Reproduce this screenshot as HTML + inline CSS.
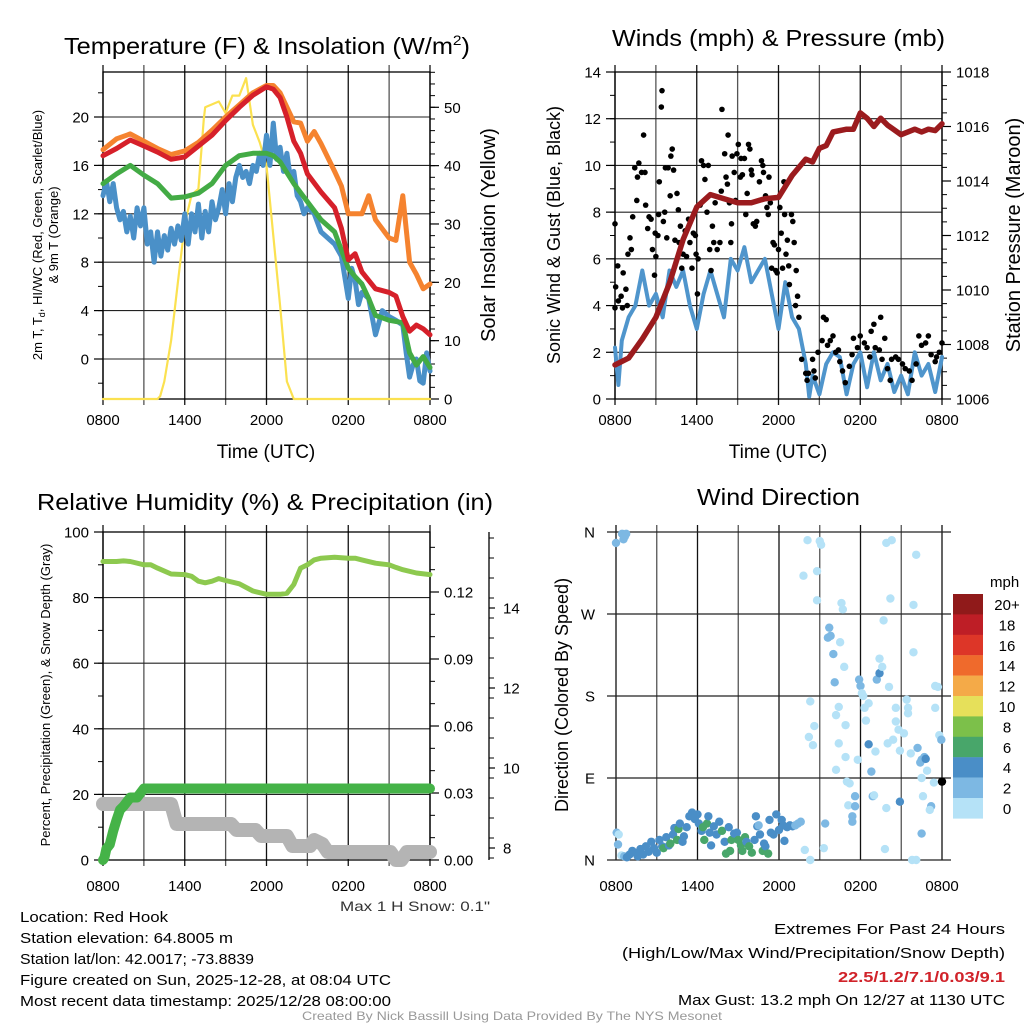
<!DOCTYPE html>
<html><head><meta charset="utf-8"><style>
html,body{margin:0;padding:0;background:#fff;}
svg{display:block;font-family:"Liberation Sans",sans-serif;}
</style></head><body>
<svg id="root" width="1024" height="1024" viewBox="0 0 1024 1024" xmlns="http://www.w3.org/2000/svg">
<rect width="1024" height="1024" fill="#fff"/>
<g id="texts" fill="#000">
<text x="64" y="54" font-size="23" textLength="406" lengthAdjust="spacingAndGlyphs">Temperature (F) &amp; Insolation (W/m<tspan font-size="14" dy="-9">2</tspan><tspan dy="9">)</tspan></text>
<text x="612" y="46" font-size="23" textLength="333" lengthAdjust="spacingAndGlyphs">Winds (mph) &amp; Pressure (mb)</text>
<text x="37" y="510" font-size="23" textLength="456" lengthAdjust="spacingAndGlyphs">Relative Humidity (%) &amp; Precipitation (in)</text>
<text x="697" y="505" font-size="23" textLength="163" lengthAdjust="spacingAndGlyphs">Wind Direction</text>
<text x="266" y="458" font-size="19" text-anchor="middle">Time (UTC)</text>
<text x="778" y="458" font-size="19" text-anchor="middle">Time (UTC)</text>
<text transform="translate(42,235) rotate(-90)" font-size="13" text-anchor="middle">2m T, T<tspan font-size="9" dy="3">d</tspan><tspan dy="-3">, HI/WC (Red, Green, Scarlet/Blue)</tspan></text>
<text transform="translate(58,235) rotate(-90)" font-size="13" text-anchor="middle">&amp; 9m T (Orange)</text>
<text transform="translate(495,235) rotate(-90)" font-size="20" text-anchor="middle">Solar Insolation (Yellow)</text>
<text transform="translate(560,235) rotate(-90)" font-size="18" text-anchor="middle">Sonic Wind &amp; Gust (Blue, Black)</text>
<text transform="translate(1020,235) rotate(-90)" font-size="20" text-anchor="middle">Station Pressure (Maroon)</text>
<text transform="translate(50,695) rotate(-90)" font-size="13" text-anchor="middle">Percent, Precipitation (Green), &amp; Snow Depth (Gray)</text>
<text transform="translate(568,695) rotate(-90)" font-size="18" text-anchor="middle">Direction (Colored By Speed)</text>
<text x="340" y="911" font-size="14" textLength="150" lengthAdjust="spacingAndGlyphs" fill="#333">Max 1 H Snow: 0.1"</text>
<g font-size="15">
<text x="20" y="922" textLength="148" lengthAdjust="spacingAndGlyphs">Location: Red Hook</text>
<text x="20" y="943" textLength="213" lengthAdjust="spacingAndGlyphs">Station elevation: 64.8005 m</text>
<text x="20" y="964" textLength="234" lengthAdjust="spacingAndGlyphs">Station lat/lon: 42.0017; -73.8839</text>
<text x="20" y="985" textLength="371" lengthAdjust="spacingAndGlyphs">Figure created on Sun, 2025-12-28, at 08:04 UTC</text>
<text x="20" y="1006" textLength="371" lengthAdjust="spacingAndGlyphs">Most recent data timestamp: 2025/12/28 08:00:00</text>
</g>
<g font-size="15">
<text x="774" y="934" textLength="231" lengthAdjust="spacingAndGlyphs">Extremes For Past 24 Hours</text>
<text x="622" y="958" textLength="383" lengthAdjust="spacingAndGlyphs">(High/Low/Max Wind/Precipitation/Snow Depth)</text>
<text x="838" y="982" textLength="167" lengthAdjust="spacingAndGlyphs" fill="#d1232a" font-weight="bold">22.5/1.2/7.1/0.03/9.1</text>
<text x="678" y="1005" textLength="327" lengthAdjust="spacingAndGlyphs">Max Gust: 13.2 mph On 12/27 at 1130 UTC</text>
</g>
<text x="302" y="1020" font-size="12" textLength="420" lengthAdjust="spacingAndGlyphs" fill="#999">Created By Nick Bassill Using Data Provided By The NYS Mesonet</text>
</g>
</svg>
<script>
// ---------- data ----------
const timeLabels = ["0800","1400","2000","0200","0800"];
const tempH = [0,1,2,3,4,5,6,7,8,9,10,11,12,12.5,13,13.5,14,14.5,15,16,17,17.5,18,18.5,19,20,21,21.5,22,22.5,23,23.5,24];
const redT  = [16.8,17.4,18.1,17.6,17.1,16.5,16.7,17.6,18.5,19.7,20.8,21.8,22.5,22.3,21.6,20,18,17,15.3,13.8,12.5,10.8,8.2,8.7,7.2,5.8,5.5,5.2,3.5,2.3,2.8,2.5,2.0];
const orangeH = [0,1,2,3,4,5,6,7,8,9,10,11,12,12.5,13,14,14.5,15,15.5,16,17,17.5,18,19,19.5,20,21,21.5,22,22.5,23,23.5,24];
const orangeT = [17.3,18.2,18.6,18.0,17.4,16.9,17.2,17.9,18.9,20.0,21.0,22.0,22.6,22.6,22.0,19.6,19.5,18.0,18.8,17.8,15.5,14.3,12.0,12.0,13.5,11.5,10.0,9.8,13.5,8.0,7.0,5.8,6.2];
const greenH = [0,1,2,3,4,5,6,7,8,9,10,11,12,12.5,13,14,15,16,17,18,18.5,19,19.5,20,21,22,22.5,23,23.5,24];
const greenT = [14.5,15.3,16.0,15.2,14.5,13.3,13.4,13.7,14.5,16,16.8,17.0,17.0,16.8,16.3,14.5,13.0,11.5,10.5,7.5,6.8,6.2,5.0,3.6,3.2,3.0,0.5,-0.5,0.2,-0.7];
const blueH = [0,0.25,0.5,0.75,1,1.25,1.5,1.75,2,2.25,2.5,2.75,3,3.25,3.5,3.75,4,4.25,4.5,4.75,5,5.25,5.5,5.75,6,6.25,6.5,6.75,7,7.25,7.5,7.75,8,8.25,8.5,8.75,9,9.25,9.5,9.75,10,10.25,10.5,10.75,11,11.25,11.5,11.75,12,12.25,12.5,12.75,13,13.25,13.5,13.75,14,14.25,14.5,14.75,15,15.5,16,16.5,17,17.5,18,18.25,18.5,18.75,19,19.5,20,20.5,21,21.5,22,22.25,22.5,22.75,23,23.25,23.5,23.75,24];
const blueT = [13.5,14.7,13.0,14.5,12.5,11.5,12.2,10.5,11.8,10.0,12.5,11.0,12.5,9.5,10.5,8.0,10.5,8.5,10.2,9.0,10.8,9.5,11.0,9.8,12.0,9.5,12.0,10.5,12.8,10.0,12.2,10.5,13.0,11.5,12.5,14.0,12.0,14.5,13.0,15.0,16.0,15.0,15.5,14.5,16.0,15.5,17.0,16.0,18.5,16.0,19.5,16.5,17.5,15.5,17.0,15.0,15.5,13.5,13.0,12.0,12.5,12.0,10.5,10.0,9.5,8.5,5.0,7.5,6.5,4.5,5.5,5.0,2.0,4.0,3.5,3.2,2.8,0.5,-1.5,-0.5,0.0,-1.8,-2.0,0.5,-1.0];
const solarH = [0,4,4.2,4.5,5,5.5,6,6.5,7,7.4,7.5,8,8.5,9,9.5,10,10.5,11,11.5,12,12.5,13,13.5,14,24];
const solarV = [0,0,0.5,3,10,20,30,35,36,48,50,50.5,51,49,52,52,55,47,44,40,28,16,3,0,0];
const tempTicks = [0,4,8,12,16,20];
const solarTicks = [0,10,20,30,40,50];

const windH = [0,0.25,0.5,1,1.5,2,2.5,3,3.5,4,4.5,5,5.5,6,6.5,7,7.5,8,8.5,9,9.5,10,10.5,11,11.5,12,12.5,13,13.5,14,14.25,14.5,15,15.5,16,16.5,17,17.5,18,18.5,19,19.5,20,20.5,21,21.5,22,22.5,23,23.5,24];
const windV = [2.2,0.6,2.5,3.5,4.0,5.5,4.0,4.5,3.5,5.5,4.8,5.5,4.0,3.0,4.5,5.5,4.5,3.5,6.0,5.5,6.5,5.0,5.5,6.0,4.5,3.0,5.0,3.5,3.0,1.5,0.1,1.0,0.2,1.5,2.0,1.8,0.2,1.5,2.0,0.5,2.0,0.8,1.5,0.3,1.0,0.2,2.0,1.0,1.5,0.3,1.8];
const pressH = [0,1,2,3,4,5,6,7,8,9,10,11,12,13,13.5,14,14.5,15,15.5,16,17,17.5,18,18.5,19,19.5,20,21,22,22.5,23,23.5,24];
const pressV = [1007.25,1007.5,1008.2,1009.0,1010.25,1011.85,1013.05,1013.5,1013.35,1013.2,1013.2,1013.35,1013.4,1014.2,1014.5,1014.8,1014.7,1015.2,1015.3,1015.8,1015.9,1015.9,1016.5,1016.3,1016.0,1016.3,1016.05,1015.7,1015.9,1015.8,1015.9,1015.85,1016.1];
const gustH = [0,0,0.05,0.2,0.25,0.45,0.55,0.6,0.9,0.8,1.1,0.95,1.2,1.3,1.45,1.6,1.65,1.75,1.95,2.1,2.2,2.25,2.4,2.5,2.65,2.75,2.9,2.95,3.0,3.15,3.2,3.25,3.4,3.45,3.55,3.65,3.7,3.8,3.9,4.05,4.1,4.2,4.3,4.4,4.55,4.65,4.7,4.8,4.9,5.0,5.15,5.25,5.4,5.5,5.65,5.75,5.9,5.95,6.05,6.1,6.25,6.35,6.5,6.6,6.75,6.85,6.95,7.05,7.15,7.25,7.35,7.5,7.7,7.8,7.85,8.05,8.15,8.25,8.3,8.4,8.5,8.55,8.6,8.75,8.85,8.95,9.05,9.2,9.25,9.35,9.5,9.6,9.7,9.8,9.9,10.0,10.05,10.15,10.3,10.4,10.6,10.75,10.85,10.9,11.05,11.15,11.25,11.3,11.4,11.5,11.6,11.7,11.8,11.9,12.0,12.1,12.2,12.3,12.4,12.45,12.55,12.65,12.75,12.8,12.95,13.05,13.15,13.25,13.3,13.4,13.5,13.7,14.0,14.1,14.2,14.5,14.6,14.7,14.9,15.2,15.3,15.5,15.6,15.8,16.0,16.2,16.4,16.5,16.7,16.9,17.2,17.4,17.5,17.8,18.0,18.3,18.5,18.7,18.8,19.0,19.1,19.4,19.5,19.6,19.8,20.0,20.2,20.3,20.6,20.8,21.1,21.3,21.6,21.8,22.1,22.3,22.5,22.8,23.0,23.2,23.5,23.6,23.8,24.0];
const gustV = [3.9,7.5,4.8,5.7,4.2,4.4,3.9,5.4,4.0,4.7,6.9,6.2,6.4,7.8,9.9,8.5,9.5,10.1,9.7,11.3,9.7,8.3,7.3,7.8,7.7,6.4,5.3,7.1,6.1,7.0,7.9,9.3,12.5,13.2,7.6,8.0,9.9,6.9,9.9,8.7,10.4,10.7,9.8,6.8,8.8,8.1,6.7,7.4,5.6,6.2,7.2,6.1,7.7,6.7,5.6,7.1,7.0,6.2,4.5,6.0,8.3,10.2,10.0,9.4,8.0,10.0,6.4,5.5,7.4,6.7,8.4,6.4,6.7,8.9,12.4,10.5,9.5,9.2,11.3,8.4,6.7,7.5,10.4,9.7,8.5,10.5,10.9,9.5,10.3,9.6,10.3,7.9,8.8,10.9,10.7,9.8,9.6,7.5,7.4,7.6,9.3,10.2,10.0,9.7,8.7,8.2,7.9,9.5,8.4,5.6,6.7,6.6,5.5,5.4,6.4,8.2,7.1,5.6,9.3,7.9,6.2,6.8,5.7,4.9,7.9,7.6,6.7,4.0,5.5,4.4,3.5,1.7,1.1,0.8,1.1,1.7,1.2,0.9,2.0,2.5,3.5,3.4,2.3,2.5,2.7,2.0,2.1,1.6,1.2,0.7,1.4,1.9,2.6,2.2,2.7,2.4,2.2,1.8,2.9,3.2,2.2,2.1,3.5,1.7,2.6,1.3,0.8,1.7,1.8,1.7,1.5,1.3,1.2,0.8,1.5,2.7,2.3,2.4,2.7,1.9,1.6,1.8,2.0,2.4];
const windTicks = [0,2,4,6,8,10,12,14];
const pressTicks = [1006,1008,1010,1012,1014,1016,1018];

const rhH = [0,1,1.5,2,3,3.5,4,5,6,6.5,7,7.5,8,8.5,9,10,11,12,13,13.5,14,14.5,15,15.5,16,17,18,18.5,19,20,21,21.5,22,23,24];
const rhV = [91,91,91.2,91,90,90,89,87.2,87,86.5,85,84.5,85,85.8,85.2,84.2,82,81,81,81.3,84,89,90,91.5,92,92.3,92,92,91.5,90.5,90,89.2,88.5,87.5,87];
const precipH = [0,0.1,0.25,0.5,0.75,1,1.25,1.5,2,2.5,3,24];
const precipV = [0,0.001,0.005,0.007,0.013,0.018,0.0225,0.024,0.028,0.028,0.032,0.032];
const snowH = [0,5.0,5.4,9.4,9.8,11.2,11.6,13.5,13.9,15.2,15.5,16.1,16.5,21.1,21.5,21.9,22.3,24];
const snowV = [9.1,9.1,8.6,8.6,8.45,8.45,8.3,8.3,8.05,8.05,8.2,8.1,7.9,7.9,7.7,7.7,7.9,7.9];
const rhTicks = [0,20,40,60,80,100];
const precipTicks = [0,0.03,0.06,0.09,0.12];
const snowTicks = [8,10,12,14];

const dirH = [0.45,0.6,0.75,0.55,0.65,0.0,0.05,0.2,0.15,0.4,0.6,0.8,1.0,1.2,1.4,1.6,1.8,2.0,2.2,2.4,2.6,2.8,3.0,3.2,3.4,3.5,3.7,3.9,4.0,4.2,4.3,4.5,4.6,4.7,4.9,5.0,5.2,5.4,5.6,5.8,6.0,6.1,6.3,6.4,6.5,6.7,6.8,6.9,7.0,7.2,7.4,7.6,7.8,8.0,8.1,8.3,8.4,8.5,8.7,8.9,9.0,9.2,9.3,9.5,9.6,9.8,10.0,10.2,10.3,10.4,10.5,10.6,10.8,10.9,11.0,11.2,11.3,11.4,11.6,11.8,12.0,12.2,12.3,12.4,12.6,12.8,13.0,13.2,13.4,13.6,14.1,13.8,15.0,15.1,14.8,14.8,14.3,14.2,14.5,14.6,13.9,14.3,15.3,15.4,15.7,15.8,15.6,16.0,16.1,16.5,16.8,16.2,16.4,16.9,16.4,16.9,16.2,16.6,16.7,17.0,17.2,17.1,17.6,17.6,17.4,17.4,17.8,17.9,18.0,18.1,18.2,18.3,18.6,18.4,18.6,18.8,18.9,19.0,19.1,19.2,19.4,19.4,19.6,19.7,19.9,20.3,20.2,20.1,20.0,19.9,19.8,20.4,20.6,20.6,20.8,20.9,21.2,21.4,21.5,21.5,21.7,21.9,21.9,22.1,21.8,22.1,20.9,22.2,22.4,22.5,22.7,22.8,22.5,22.9,22.6,22.5,23.2,23.1,23.4,23.5,23.5,23.7,23.8,23.95,24.0];
const dirV = [358,357,358,352,355,348,30,28,17,5,4,3,6,10,8,4,12,6,15,9,20,13,8,22,15,13,25,16,18,28,35,22,34,40,20,26,36,48,52,45,50,40,32,36,22,40,48,30,16,37,28,42,32,20,7,36,10,22,29,30,22,16,10,25,20,15,8,22,48,37,38,28,10,18,15,7,44,30,28,50,33,44,38,21,36,38,37,38,40,42,351,312,350,346,317,285,174,135,126,147,11,0,13,40,255,246,244,226,195,239,212,159,168,148,128,113,99,282,275,86,84,60,70,59,48,42,110,198,191,183,180,167,172,153,127,97,70,71,119,198,205,221,212,263,348,351,287,190,128,57,12,132,152,167,143,120,139,176,167,161,117,228,280,335,0,0,64,123,107,110,113,111,90,98,70,29,59,55,85,167,191,190,137,132,86];
const dirSpd = [2,2,2,2,2,3,3,1,3,1,3,4,4,4,4,4,4,4,4,4,4,4,4,4,4,6,4,4,6,4,4,6,6,4,4,4,4,4,4,4,4,4,4,6,6,6,4,4,4,4,4,4,6,4,6,4,6,6,4,4,6,6,6,6,4,6,6,4,4,4,2,4,6,4,4,6,4,4,4,4,4,4,4,4,4,4,4,3,2,2,1,1,1,1,1,1,1,1,1,1,1,1,1,2,3,3,2,3,3,1,1,1,1,1,1,1,1,1,1,1,1,1,3,2,3,2,1,3,3,1,1,1,1,1,4,3,3,1,1,3,4,1,1,1,1,1,1,1,1,1,1,1,1,1,1,1,1,1,1,1,1,1,1,1,1,1,4,3,2,3,3,4,1,1,1,3,3,1,1,1,1,1,1,3];
const dirLabels = ["N","E","S","W","N"];
const speedLabels = ["20+","18","16","14","12","10","8","6","4","2","0"];
const speedColors = ["#b5e2f7","#7db8e3","#4a8ec7","#48a66a","#7cc04a","#e6e05a","#f4aa48","#ef6a2c","#dd3628","#be1e26","#901a1a"];

// ---------- drawing ----------
const NS = "http://www.w3.org/2000/svg";
const root = document.getElementById("root");
function mk(tag, attrs, parent) {
  const e = document.createElementNS(NS, tag);
  for (const k in attrs) e.setAttribute(k, attrs[k]);
  (parent || root).appendChild(e);
  return e;
}
function lin(d0, d1, r0, r1) { return v => r0 + (v - d0) * (r1 - r0) / (d1 - d0); }
function pathD(xs, ys, sx, sy) { return xs.map((x, i) => (i ? "L" : "M") + sx(x).toFixed(1) + "," + sy(ys[i]).toFixed(1)).join(""); }

function frame(g, x0, x1, y0, y1, sx, hGrid, sy, labOff) {
  for (let h = 0; h <= 24; h += 3) {
    const x = sx(h);
    const gl = mk("line", {x1: x, x2: x, y1: y0 - 7, y2: y1 + 6, stroke: h % 6 === 0 ? "#111" : "#555", "stroke-width": 1.3}, g);
    
    
  }
  hGrid.forEach(v => {
    const y = sy(v);
    const hl = mk("line", {x1: x0, x2: x1, y1: y, y2: y, stroke: "#222", "stroke-width": 1.1}, g);
    
    
  });
  const br = mk("rect", {x: x0, y: y0, width: x1 - x0, height: y1 - y0, fill: "none", stroke: "#000", "stroke-width": 1.3}, g);
  
  
  timeLabels.forEach((t, i) => {
    const tx = mk("text", {x: sx(i * 6), y: y1 + labOff, "font-size": 15, "text-anchor": "middle"}, g);
    tx.textContent = t;
    
    
  });
}
function yAxis(g, x, sy, lo, hi, minorStep, labels, fmt, side, len) {
  const dir = side === "left" ? -1 : 1;
  for (let v = lo; v <= hi + 1e-9; v += minorStep) {
    const y = sy(v);
    const tk = mk("line", {x1: x, x2: x + dir * 5, y1: y, y2: y, stroke: "#000", "stroke-width": 1}, g);
    
    
  }
  labels.forEach(v => {
    const y = sy(v);
    const tk = mk("line", {x1: x, x2: x + dir * (len || 9), y1: y, y2: y, stroke: "#000", "stroke-width": 1.2}, g);
    
    
    const tx = mk("text", {x: x + dir * 14, y: y + 5.5, "font-size": 15, "text-anchor": side === "left" ? "end" : "start"}, g);
    tx.textContent = fmt(v);
    
    
  });
}
function series(g, xs, ys, sx, sy, color, w, name) {
  const p = mk("path", {d: pathD(xs, ys, sx, sy), fill: "none", stroke: color, "stroke-width": w, "stroke-linejoin": "round", "stroke-linecap": "round"}, g);
  
  
  return p;
}

// Panel 1
{
  const g = mk("g", {});
  
  
  const sx = lin(0, 24, 103, 430), sy = lin(0, 20, 359, 117), syR = lin(0, 50, 399, 107.3);
  frame(g, 103, 430, 72, 399, sx, tempTicks, sy, 26);
  yAxis(g, 103, sy, -2, 22, 2, tempTicks, v => String(v), "left");
  yAxis(g, 430, syR, 0, 56, 2, solarTicks, v => String(v), "right");
  series(g, solarH, solarV, sx, syR, "#fbe150", 2.2, "solar-insolation-line");
  series(g, orangeH, orangeT, sx, sy, "#f5832f", 5, "9m-temperature-line");
  series(g, blueH, blueT, sx, sy, "#4a90c8", 5, "wind-chill-line");
  series(g, greenH, greenT, sx, sy, "#43ab45", 5, "dewpoint-line");
  series(g, tempH, redT, sx, sy, "#d6202a", 5, "2m-temperature-line");
}
// Panel 2
{
  const g = mk("g", {});
  
  
  const sx = lin(0, 24, 615, 942), sy = lin(0, 14, 399, 72), syR = lin(1006, 1018, 399, 72);
  frame(g, 615, 942, 72, 399, sx, windTicks, sy, 26);
  yAxis(g, 615, sy, 0, 14, 1, windTicks, v => String(v), "left");
  yAxis(g, 942, syR, 1006, 1018, 0.5, pressTicks, v => String(v), "right");
  series(g, windH, windV, sx, sy, "#4f95cc", 4, "sonic-wind-line");
  gustH.forEach((h, i) => {
    const c = mk("circle", {cx: sx(h), cy: sy(gustV[i]), r: 2.8, fill: "#000"}, g);
    
    
  });
  series(g, pressH, pressV, sx, syR, "#9b1b1e", 5.5, "station-pressure-line");
}
// Panel 3
{
  const g = mk("g", {});
  
  
  const sx = lin(0, 24, 103, 430), sy = lin(0, 100, 860, 532), syP = lin(0, 0.03, 860, 793), syS = lin(8, 10, 848, 768);
  frame(g, 103, 430, 532, 860, sx, rhTicks, sy, 31);
  yAxis(g, 103, sy, 0, 100, 10, rhTicks, v => String(v), "left");
  yAxis(g, 430, syP, 0, 0.146, 0.01, precipTicks, v => v.toFixed(2), "right");
  const ax = mk("line", {x1: 489, x2: 489, y1: 532, y2: 860, stroke: "#000", "stroke-width": 1.3}, g);
  
  
  yAxis(g, 489, syS, 7.75, 15.9, 0.5, snowTicks, v => String(v), "right", 6);
  series(g, snowH, snowV, sx, syS, "#b4b4b4", 14, "snow-depth-line");
  series(g, precipH, precipV, sx, syP, "#45b348", 10, "precipitation-line");
  series(g, rhH, rhV, sx, sy, "#8dc94f", 5, "relative-humidity-line");
}
// Panel 4
{
  const g = mk("g", {});
  
  
  const sx = lin(0, 24, 616, 942), sy = lin(0, 360, 860, 532);
  for (let h = 0; h <= 24; h += 3) {
    const x = sx(h);
    const gl = mk("line", {x1: x, x2: x, y1: 525, y2: 860, stroke: h % 6 === 0 ? "#111" : "#555", "stroke-width": 1.3}, g);
    
    
  }
  dirLabels.forEach((l, i) => {
    const y = sy(i * 90);
    const hl = mk("line", {x1: 607, x2: 951, y1: y, y2: y, stroke: "#222", "stroke-width": 1.2}, g);
    
    
    const tx = mk("text", {x: 595, y: y + 5.5, "font-size": 15, "text-anchor": "end"}, g);
    tx.textContent = l;
    
    
  });
  timeLabels.forEach((t, i) => {
    const tx = mk("text", {x: sx(i * 6), y: 891, "font-size": 15, "text-anchor": "middle"}, g);
    tx.textContent = t;
    
    
  });
  dirH.forEach((h, i) => {
    const idx = Math.min(10, Math.floor(dirSpd[i] / 2));
    const c = mk("circle", {cx: sx(h), cy: sy(dirV[i]), r: 4.2, fill: speedColors[idx]}, g);
    
    
  });
  const mph = mk("text", {x: 990, y: 587, "font-size": 15}, g);
  mph.textContent = "mph";
  
  
  speedLabels.forEach((l, i) => {
    const y = 594 + i * 20.4;
    const r = mk("rect", {x: 953, y: y, width: 30, height: 20.6, fill: speedColors[10 - i]}, g);
    
    
    const tx = mk("text", {x: 1007, y: y + 16, "font-size": 15, "text-anchor": "middle"}, g);
    tx.textContent = l;
    
    
  });
}
</script>
</body></html>
